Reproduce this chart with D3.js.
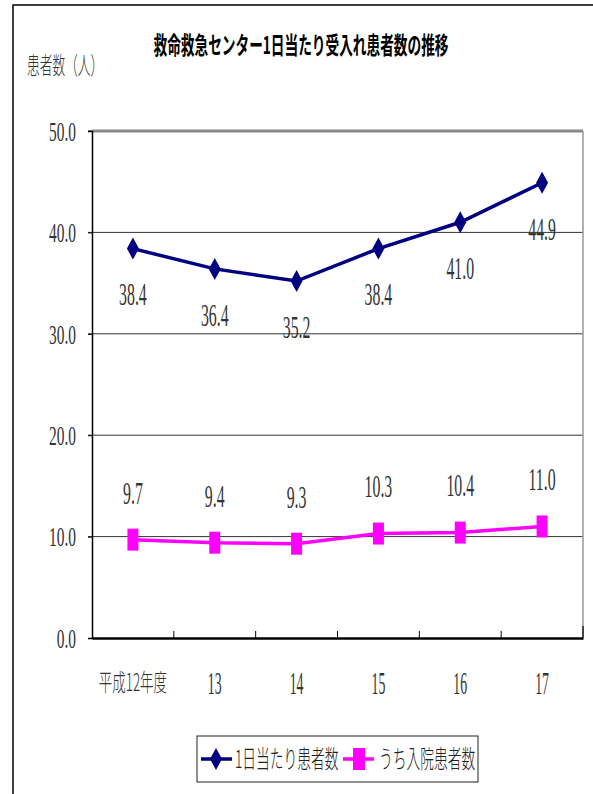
<!DOCTYPE html>
<html><head><meta charset="utf-8">
<script src="https://cdn.jsdelivr.net/npm/d3@7"></script>
<style>html,body{margin:0;padding:0;background:#fff;}svg{display:block;}</style>
</head><body>
<script>
const categories = ["平成12年度","13","14","15","16","17"];
const dailyPatients = [38.4, 36.4, 35.2, 38.4, 41.0, 44.9];
const inpatients = [9.7, 9.4, 9.3, 10.3, 10.4, 11.0];
const yTicks = [0, 10, 20, 30, 40, 50];
const seriesNames = ["1日当たり患者数", "うち入院患者数"];
const title = "救命救急センター1日当たり受入れ患者数の推移";
const yTitle = "患者数（人）";

const W = 593, H = 794;
const svg = d3.select("body").append("svg").attr("width", W).attr("height", H);
const serif = "'Liberation Serif', 'DejaVu Serif', serif";
const cjk = "'Noto Sans CJK JP', sans-serif";

// outer frame
svg.append("path").attr("d", `M13,${H+5} V5 H${W+5}`).attr("fill","none").attr("stroke","#000").attr("stroke-width",1.5);

const L = 92, R = 583, T = 131, B = 638;
const x = d3.scaleBand().domain(categories).range([L, R]);
const y = d3.scaleLinear().domain([0, 50]).range([B, T]);
const cx = d => x(d) + x.bandwidth()/2;

function txt(g, s, px, py, o) {
  return g.append("text")
    .attr("transform", `translate(${px},${py}) scale(${o.sx},1)`)
    .attr("text-anchor", o.anchor || "middle")
    .attr("dy", "0.35em")
    .style("font-family", o.font)
    .style("font-size", o.size + "px")
    .style("font-weight", o.weight || "normal")
    .attr("fill", o.fill || "#222")
    .text(s);
}

// gridlines
svg.append("g").selectAll("line").data(yTicks.filter(v => v > 0 && v < 50)).join("line")
  .attr("x1", L - 4).attr("x2", R).attr("y1", d => y(d)).attr("y2", d => y(d))
  .attr("stroke", "#333").attr("stroke-width", 1);

// plot borders
svg.append("line").attr("x1", L).attr("x2", R).attr("y1", T).attr("y2", T).attr("stroke", "#888").attr("stroke-width", 3);
svg.append("line").attr("x1", R).attr("x2", R).attr("y1", T).attr("y2", B).attr("stroke", "#999").attr("stroke-width", 1.5);
svg.append("line").attr("x1", L - 4).attr("x2", L).attr("y1", T).attr("y2", T).attr("stroke", "#000").attr("stroke-width", 1);

// y axis
const yAxis = svg.append("g").attr("transform", `translate(${L},0)`)
  .call(d3.axisLeft(y).tickValues(yTicks).tickSize(4).tickFormat(""));
yAxis.select(".domain").attr("stroke", "#000").attr("stroke-width", 1.5);
yAxis.selectAll(".tick line").attr("stroke", "#000");
yTicks.forEach(v => txt(svg, d3.format(".1f")(v), 76, y(v), {font: serif, size: 28, sx: 0.55, anchor: "end", fill: "#333"}));

// x axis
const xAxis = svg.append("g").attr("transform", `translate(0,${B})`)
  .call(d3.axisBottom(x).tickSize(0).tickFormat(""));
xAxis.select(".domain").attr("stroke", "#000").attr("stroke-width", 2.5);
const bounds = categories.slice(1).map(c => x(c));
svg.append("g").selectAll("line").data(bounds).join("line")
  .attr("x1", d => d).attr("x2", d => d).attr("y1", B).attr("y2", B - 7)
  .attr("stroke", "#000").attr("stroke-width", 1);
svg.append("line").attr("x1", R).attr("x2", R).attr("y1", B - 12).attr("y2", B).attr("stroke", "#222").attr("stroke-width", 1.5);
categories.forEach((c, i) => {
  if (i === 0) txt(svg, c, cx(c), 683, {font: cjk, size: 24, sx: 0.56, weight: 300, fill: "#333"});
  else txt(svg, c, cx(c), 683, {font: serif, size: 32, sx: 0.43, fill: "#333"});
});

// lines
const navy = "#000080", magenta = "#FF00FF";
const line = d3.line().x((d, i) => cx(categories[i])).y(d => y(d));
svg.append("path").datum(dailyPatients).attr("d", line).attr("fill", "none").attr("stroke", navy).attr("stroke-width", 3.5);
svg.append("path").datum(inpatients).attr("d", line).attr("fill", "none").attr("stroke", magenta).attr("stroke-width", 3.5);

const diamond = (px, py) => `M${px},${py-11} L${px+6},${py} L${px},${py+11} L${px-6},${py} Z`;
svg.append("g").selectAll("path").data(dailyPatients).join("path")
  .attr("d", (d, i) => diamond(cx(categories[i]), y(d))).attr("fill", navy);
svg.append("g").selectAll("rect").data(inpatients).join("rect")
  .attr("x", (d, i) => cx(categories[i]) - 5.5).attr("y", d => y(d) - 11)
  .attr("width", 11).attr("height", 22).attr("fill", magenta);

// data labels
dailyPatients.forEach((v, i) => txt(svg, d3.format(".1f")(v), cx(categories[i]), y(v) + 46, {font: serif, size: 31, sx: 0.51, fill: "#333"}));
inpatients.forEach((v, i) => txt(svg, d3.format(".1f")(v), cx(categories[i]), y(v) - 47, {font: serif, size: 31, sx: 0.51, fill: "#333"}));

// titles
txt(svg, title, 301, 46, {font: cjk, size: 24, sx: 0.57, weight: "bold", fill: "#000"});
txt(svg, yTitle, 27, 66, {font: cjk, size: 24, sx: 0.53, anchor: "start", weight: 300, fill: "#333"});

// legend
svg.append("rect").attr("x", 197).attr("y", 736).attr("width", 281).attr("height", 46)
  .attr("fill", "#fff").attr("stroke", "#222").attr("stroke-width", 1);
const ly = 759;
svg.append("line").attr("x1", 201).attr("x2", 232).attr("y1", ly).attr("y2", ly).attr("stroke", navy).attr("stroke-width", 3.5);
svg.append("path").attr("d", diamond(216, ly)).attr("fill", navy);
txt(svg, seriesNames[0], 235, ly, {font: cjk, size: 25, sx: 0.55, anchor: "start", weight: 300, fill: "#222"});
svg.append("line").attr("x1", 343).attr("x2", 374).attr("y1", ly).attr("y2", ly).attr("stroke", magenta).attr("stroke-width", 3.5);
svg.append("rect").attr("x", 353).attr("y", ly - 11).attr("width", 12).attr("height", 22).attr("fill", magenta);
txt(svg, seriesNames[1], 379, ly, {font: cjk, size: 25, sx: 0.55, anchor: "start", weight: 300, fill: "#222"});
</script>
</body></html>
